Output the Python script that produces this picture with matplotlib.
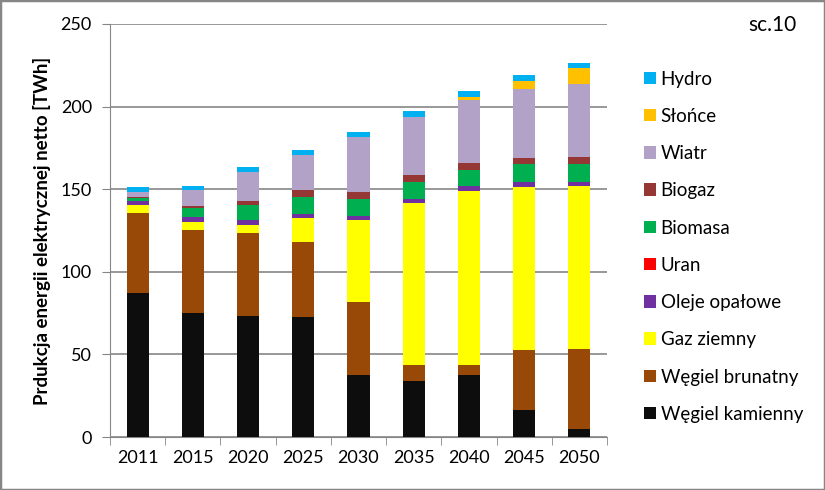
"""
Electricity production by source, scenario sc.10.
"""

import matplotlib.pyplot as plt
from matplotlib.patches import Rectangle
import numpy as np

years = ["2011", "2015", "2020", "2025", "2030", "2035", "2040", "2045", "2050"]

wegiel_kamienny = [87.0, 74.9, 73.1, 72.5, 37.4, 33.7, 37.3, 16.2, 4.7]
wegiel_brunatny = [48.4, 50.2, 50.2, 45.4, 44.1, 9.7, 6.1, 36.3, 48.4]
gaz_ziemny = [4.9, 4.9, 4.8, 14.5, 49.7, 98.0, 105.3, 98.7, 99.1]
oleje_opalowe = [2.4, 3.0, 3.1, 2.4, 2.4, 2.4, 3.0, 3.0, 2.4]
uran = [0, 0, 0, 0, 0, 0, 0, 0, 0]
biomasa = [2.2, 5.4, 9.1, 10.3, 10.3, 10.4, 9.7, 10.9, 10.5]
biogaz = [0.6, 1.2, 2.4, 4.2, 4.2, 4.2, 4.2, 3.6, 4.2]
wiatr = [2.6, 9.9, 17.5, 21.2, 33.3, 35.1, 38.2, 41.8, 44.1]
slonce = [0, 0, 0, 0, 0, 0, 1.8, 4.8, 9.7]
hydro = [3.0, 2.2, 3.1, 3.0, 3.0, 3.6, 3.7, 3.6, 3.0]

series = [
    ("Węgiel kamienny", wegiel_kamienny, "#0d0d0d"),
    ("Węgiel brunatny", wegiel_brunatny, "#984807"),
    ("Gaz ziemny", gaz_ziemny, "#ffff00"),
    ("Oleje opałowe", oleje_opalowe, "#7030a0"),
    ("Uran", uran, "#ff0000"),
    ("Biomasa", biomasa, "#00b050"),
    ("Biogaz", biogaz, "#953735"),
    ("Wiatr", wiatr, "#b3a2c7"),
    ("Słońce", slonce, "#ffc000"),
    ("Hydro", hydro, "#00b0f0"),
]

plt.rcParams["font.family"] = ["Lato", "DejaVu Sans"]

fig = plt.figure(figsize=(8.25, 4.9), dpi=100)
ax = fig.add_axes([110 / 825, (490 - 437) / 490, 497 / 825, 413 / 490])

x = np.arange(len(years))
bottom = np.zeros(len(years))
handles = []
for name, vals, color in series:
    b = ax.bar(x, vals, width=0.4, bottom=bottom, color=color, label=name, zorder=3)
    handles.append(b)
    bottom += np.array(vals)

ax.set_xlim(-0.5, len(years) - 0.5)
ax.set_ylim(0, 250)
ax.set_yticks(range(0, 251, 50))
ax.set_xticks(x)
ax.set_xticklabels(years)
ax.set_xticks(np.arange(-0.5, len(years), 1), minor=True)
ax.tick_params(axis="x", which="major", length=0, pad=9, labelsize=13)
ax.tick_params(axis="x", which="minor", length=6, color="#868686")
ax.tick_params(axis="y", length=6, color="#868686", labelsize=13, pad=7)
ax.grid(axis="y", color="#868686", linewidth=1.2, zorder=0)
for side in ["top", "right"]:
    ax.spines[side].set_visible(False)
for side in ["left", "bottom"]:
    ax.spines[side].set_color("#868686")

ax.set_ylabel("Prdukcja energii elektrycznej netto [TWh]", fontsize=13.5,
              fontweight="bold", labelpad=7)

fig.legend(handles[::-1], [s[0] for s in series][::-1], loc="upper left",
           bbox_to_anchor=(636 / 825, 1 - 63 / 490), frameon=False, fontsize=13.5,
           handlelength=0.64, handleheight=0.64, handletextpad=0.27,
           labelspacing=1.08, borderaxespad=0)

fig.text(797 / 825, 1 - 25 / 490, "sc.10", ha="right", va="center", fontsize=15)

fig.patches.append(Rectangle((0, 0), 1, 1, transform=fig.transFigure, fill=False,
                             edgecolor="#868686", linewidth=2.5))

plt.savefig("out.png")
